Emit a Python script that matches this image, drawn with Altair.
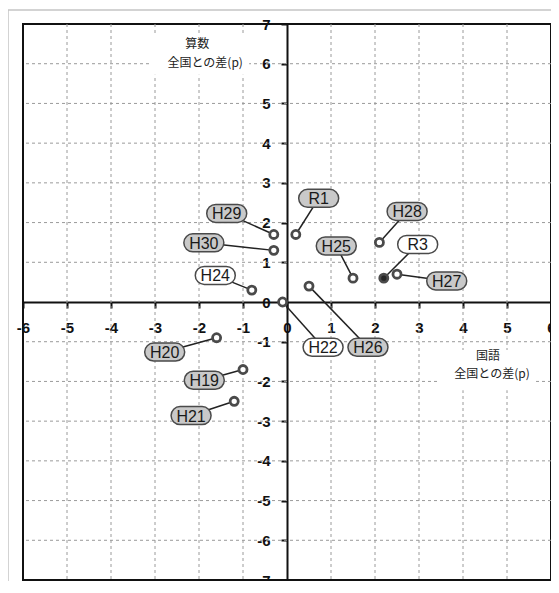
import altair as alt
import pandas as pd

# ---- data ----
years = ["H19", "H20", "H21", "H22", "H24", "H25", "H26", "H27", "H28", "H29", "H30", "R1", "R3"]
kokugo = [-1.0, -1.6, -1.2, -0.1, -0.8, 1.5, 0.5, 2.5, 2.1, -0.3, -0.3, 0.2, 2.2]   # 国語 全国との差
sansu = [-1.7, -0.9, -2.5, 0.0, 0.3, 0.6, 0.4, 0.7, 1.5, 1.7, 1.3, 1.7, 0.6]       # 算数 全国との差
label_x = [-1.88, -2.78, -2.18, 0.82, -1.63, 1.12, 1.84, 3.63, 2.73, -1.37, -1.89, 0.72, 2.97]
label_y = [-1.97, -1.26, -2.86, -1.14, 0.67, 1.41, -1.14, 0.53, 2.28, 2.23, 1.49, 2.61, 1.45]
white_labels = ["H22", "H24", "R3"]
latest = "R3"
x_ticks = list(range(-6, 7))
y_ticks = list(range(-7, 8))

title_text = ["算数", "全国との差(p)", "国語", "全国との差(p)"]
title_x = [-2.04, -1.86, 4.57, 4.66]
title_y = [6.50, 6.02, -1.37, -1.81]
title_bg_x = [-3.12, 3.44]
title_bg_x2 = [-0.86, 5.66]
title_bg_y = [6.75, -1.21]
title_bg_y2 = [5.72, -2.22]

W, H = 528, 556

df = pd.DataFrame({"year": years, "x": kokugo, "y": sansu, "lx": label_x, "ly": label_y})
grid_x = pd.DataFrame({"x": [v for v in x_ticks if v not in (x_ticks[0], 0, x_ticks[-1])]})
grid_y = pd.DataFrame({"y": [v for v in y_ticks if v not in (y_ticks[0], 0, y_ticks[-1])]})
titles = pd.DataFrame({"t": title_text, "x": title_x, "y": title_y})
title_bg = pd.DataFrame({"x": title_bg_x, "x2": title_bg_x2, "y": title_bg_y, "y2": title_bg_y2})

x_scale = alt.Scale(domain=[x_ticks[0], x_ticks[-1]], nice=False, zero=False)
y_scale = alt.Scale(domain=[y_ticks[0], y_ticks[-1]], nice=False, zero=False)

axis_common = dict(
    domainColor="#111", domainWidth=2, tickColor="#111", tickWidth=2, tickSize=6,
    labelFont="Liberation Sans", labelFontSize=15, labelFontWeight="bold",
    labelColor="#111", labelFlush=False, labelOverlap=False, grid=False, title=None,
    labelExpr="'' + datum.value",
)
x_axis = alt.Axis(values=x_ticks, orient="bottom", offset=-H / 2, labelPadding=12, **axis_common)
y_axis = alt.Axis(values=y_ticks, orient="left", offset=-W / 2, labelPadding=11, **axis_common)


def X(field):
    return alt.X(field, type="quantitative", scale=x_scale, axis=x_axis)


def Y(field):
    return alt.Y(field, type="quantitative", scale=y_scale, axis=y_axis)


one = pd.DataFrame({"a": [0]})
frame_left = alt.Chart(one).mark_rule(color="#c4c4c4", strokeWidth=1.5).encode(
    x=alt.value(-15), y=alt.value(-14), y2=alt.value(H + 40))
frame_top = alt.Chart(one).mark_rule(color="#c4c4c4", strokeWidth=1.5).encode(
    x=alt.value(-15), x2=alt.value(W + 40), y=alt.value(-14))

vgrid = alt.Chart(grid_x).mark_rule(color="#9a9a9a", strokeDash=[3, 3], strokeWidth=1).encode(x=X("x"))
hgrid = alt.Chart(grid_y).mark_rule(color="#9a9a9a", strokeDash=[3, 3], strokeWidth=1).encode(y=Y("y"))

bg = alt.Chart(title_bg).mark_rect(fill="white").encode(x=X("x"), x2="x2", y=Y("y"), y2="y2")
title_marks = alt.Chart(titles).mark_text(
    font="Noto Sans CJK JP", fontSize=12, color="#222", align="center", baseline="middle"
).encode(x=X("x"), y=Y("y"), text="t")

leaders = alt.Chart(df).mark_rule(color="#222", strokeWidth=1.5).encode(
    x=X("x"), y=Y("y"), x2="lx", y2="ly")

boxes = alt.Chart(df).mark_rect(
    width=40, height=18, cornerRadius=9, stroke="#4a4a4a", strokeWidth=1.5
).encode(
    x=X("lx"), y=Y("ly"),
    fill=alt.condition(alt.FieldOneOfPredicate(field="year", oneOf=white_labels),
                       alt.value("white"), alt.value("#c9c9c9")),
)
box_text = alt.Chart(df).mark_text(
    font="Liberation Sans", fontSize=16, color="#1a1a1a", align="center", baseline="middle", dy=1
).encode(x=X("lx"), y=Y("ly"), text="year")

points = alt.Chart(df).mark_circle(size=65, stroke="#4a4a4a", strokeWidth=2.8, opacity=1).encode(
    x=X("x"), y=Y("y"),
    fill=alt.condition(alt.datum.year == latest, alt.value("#262626"), alt.value("white")),
)

chart = alt.layer(
    frame_left, frame_top, vgrid, hgrid, bg, title_marks, leaders, boxes, box_text, points
).properties(
    width=W, height=H,
    autosize=alt.AutoSizeParams(type="none"),
    padding={"left": 15, "top": 16, "right": 0, "bottom": 1},
    background="white",
).configure_view(stroke="#111", strokeWidth=2)

chart.save("out.html", embed_options={"renderer": "svg", "actions": False})
